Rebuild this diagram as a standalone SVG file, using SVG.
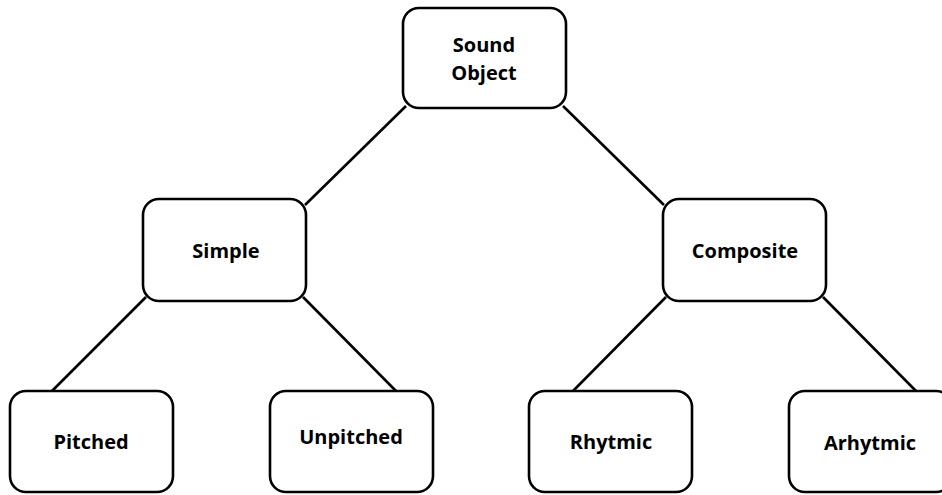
<svg xmlns="http://www.w3.org/2000/svg" width="942" height="495" viewBox="0 0 942 495">
<style>
.box{fill:#fff;stroke:#000;stroke-width:2.6}
.lbl{font-family:"Open Sans","Liberation Sans",sans-serif;font-weight:700;font-size:20px;fill:#000;text-anchor:middle}
.conn line{stroke:#000;stroke-width:2.6}
</style>
<rect width="942" height="495" fill="#fff"/>
<g id="connectors" class="conn">
<line x1="406" y1="106" x2="305" y2="205"/>
<line x1="563" y1="106" x2="664" y2="205"/>
<line x1="146" y1="297" x2="52" y2="391"/>
<line x1="303" y1="297" x2="396" y2="391"/>
<line x1="666" y1="297" x2="573" y2="391"/>
<line x1="823" y1="297" x2="916" y2="391"/>
</g>
<g id="sound-object">
<rect class="box" x="403" y="8" width="163" height="100" rx="16"/>
<text class="lbl" x="484" y="52">Sound</text>
<text class="lbl" x="484" y="80">Object</text>
</g>
<g id="simple">
<rect class="box" x="143" y="199" width="163" height="102" rx="16"/>
<text class="lbl" x="226" y="258">Simple</text>
</g>
<g id="composite">
<rect class="box" x="663" y="199" width="163" height="102" rx="16"/>
<text class="lbl" x="745" y="258">Composite</text>
</g>
<g id="pitched">
<rect class="box" x="10" y="391" width="163" height="101" rx="16"/>
<text class="lbl" x="91" y="449">Pitched</text>
</g>
<g id="unpitched">
<rect class="box" x="270" y="391" width="163" height="101" rx="16"/>
<text class="lbl" x="351" y="444">Unpitched</text>
</g>
<g id="rhytmic">
<rect class="box" x="529" y="391" width="163" height="101" rx="16"/>
<text class="lbl" x="611" y="449">Rhytmic</text>
</g>
<g id="arhytmic">
<rect class="box" x="789" y="391" width="163" height="101" rx="16"/>
<text class="lbl" x="870" y="450">Arhytmic</text>
</g>
</svg>
